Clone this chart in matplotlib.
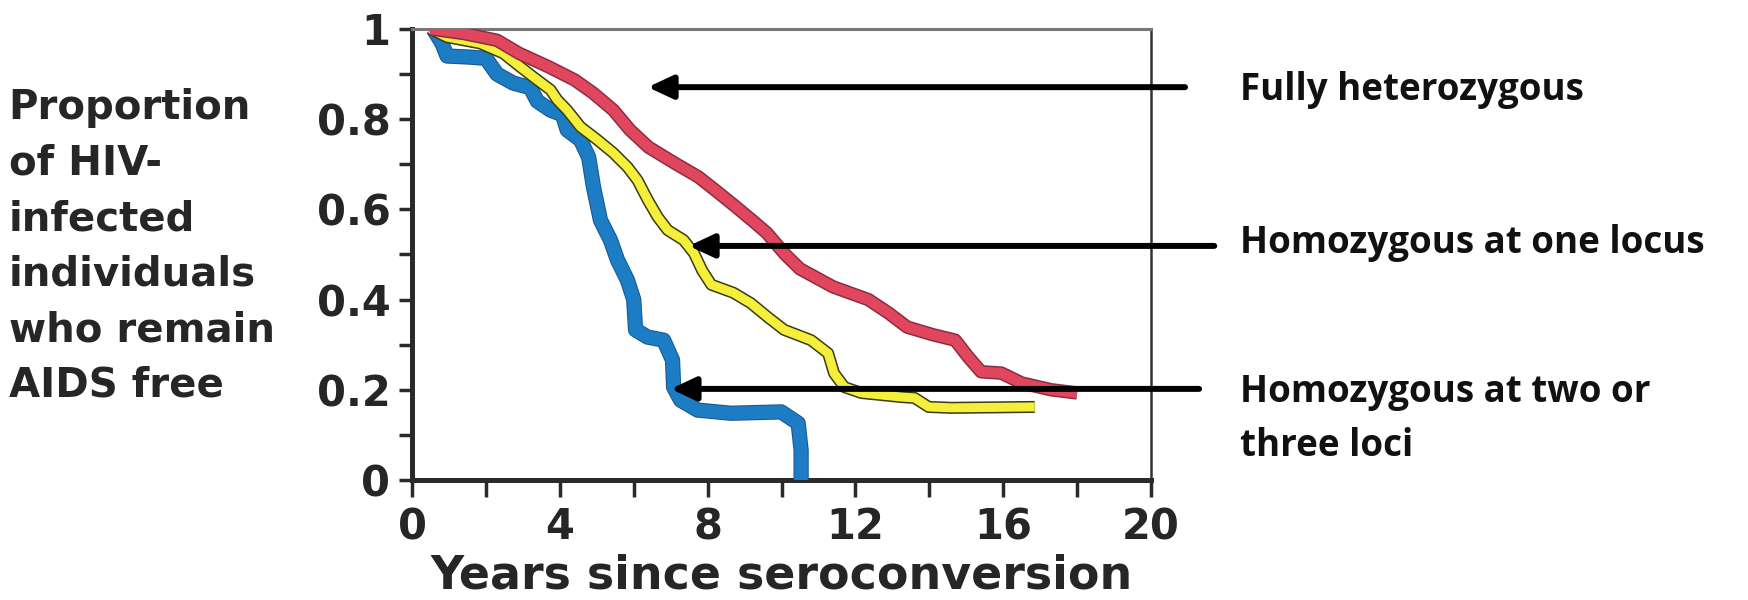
import matplotlib
matplotlib.use("Agg")
import matplotlib.pyplot as plt
import matplotlib.patheffects as pe
from matplotlib.ticker import MultipleLocator, FixedLocator

# Curve readings (years since seroconversion, proportion AIDS free)
red_x = [0.5, 1.4, 2.3, 2.9, 3.7, 4.4, 4.9, 5.45, 5.9, 6.4, 7.1, 7.75, 8.2, 8.7, 9.2,
         9.6, 10.1, 10.5, 11.4, 12.35, 12.9, 13.4, 14.1, 14.7, 15.05, 15.4, 15.95, 16.5,
         17.3, 18.0]
red_y = [1.0, 0.99, 0.975, 0.946, 0.916, 0.887, 0.858, 0.82, 0.776, 0.738, 0.703, 0.672,
         0.643, 0.61, 0.576, 0.548, 0.5, 0.468, 0.428, 0.40, 0.37, 0.339, 0.322, 0.31,
         0.273, 0.24, 0.237, 0.215, 0.2, 0.193]

yellow_x = [0.5, 0.95, 1.85, 2.47, 2.93, 3.39, 3.75, 3.93, 4.2, 4.56, 5.02, 5.45, 5.83,
            6.1, 6.38, 6.65, 6.92, 7.35, 7.63, 7.85, 8.1, 8.7, 9.17, 9.63, 10.07, 10.8,
            11.26, 11.42, 11.7, 12.16, 13.24, 13.6, 13.98, 14.6, 16.85]
yellow_y = [1.0, 0.982, 0.968, 0.946, 0.916, 0.887, 0.865, 0.843, 0.82, 0.783, 0.754,
            0.725, 0.694, 0.665, 0.621, 0.583, 0.554, 0.532, 0.503, 0.465, 0.433, 0.415,
            0.392, 0.361, 0.333, 0.31, 0.281, 0.237, 0.206, 0.193, 0.184, 0.182, 0.162,
            0.16, 0.162]

blue_x = [0.57, 0.8, 0.95, 1.49, 2.0, 2.3, 2.74, 3.2, 3.39, 3.75, 4.07, 4.2, 4.56, 4.78,
          4.91, 5.1, 5.37, 5.56, 5.83, 6.0, 6.05, 6.37, 6.81, 7.05, 7.08, 7.27, 7.73,
          8.63, 9.99, 10.45, 10.53, 10.53]
blue_y = [1.0, 0.97, 0.94, 0.938, 0.935, 0.90, 0.88, 0.87, 0.84, 0.82, 0.81, 0.776,
          0.754, 0.716, 0.65, 0.576, 0.532, 0.488, 0.443, 0.40, 0.333, 0.317, 0.31,
          0.266, 0.206, 0.177, 0.155, 0.148, 0.151, 0.126, 0.066, 0.0]

# arrow tips (data coords) and labels
labels = ["Fully heterozygous", "Homozygous at one locus", "Homozygous at two or\nthree loci"]
tip_x = [6.38, 7.49, 7.0]
tip_y = [0.871, 0.519, 0.202]
tail_x = [20.92, 21.71, 21.3]

x_ticks = [0, 4, 8, 12, 16, 20]
y_ticks = [0, 0.2, 0.4, 0.6, 0.8, 1]
y_tick_labels = ["0", "0.2", "0.4", "0.6", "0.8", "1"]

txt = "#262626"
fig = plt.figure(figsize=(17.48, 6.0), dpi=100)
ax = fig.add_axes([0.2357, 0.2, 0.4228, 0.7517])

def band(x, y, fill, edge, lw, elw, z):
    ax.plot(x, y, color=fill, lw=lw, solid_joinstyle="round", solid_capstyle="butt",
            zorder=z, path_effects=[pe.Stroke(linewidth=lw + elw, foreground=edge),
                                    pe.Normal()])

band(blue_x, blue_y, "#1c7cc4", "#18588f", 9.5, 1.5, 3)
band(yellow_x, yellow_y, "#f3ef3a", "#3c3a12", 6.5, 2.2, 4)
band(red_x, red_y, "#e0475f", "#8c2d3e", 7.5, 2.2, 5)

ax.set_xlim(0, 20)
ax.set_ylim(0, 1)
ax.xaxis.set_major_locator(FixedLocator(x_ticks))
ax.xaxis.set_minor_locator(MultipleLocator(2))
ax.set_yticks(y_ticks)
ax.set_yticklabels(y_tick_labels)
ax.yaxis.set_minor_locator(MultipleLocator(0.1))

ax.tick_params(axis="x", which="both", direction="out", length=12, width=2.5,
               color="#2a2a2a", pad=7, labelsize=30, labelcolor=txt)
ax.tick_params(axis="y", which="both", direction="out", length=9.5, width=2.5,
               color="#2a2a2a", pad=6, labelsize=30, labelcolor=txt)
for lab in ax.get_xticklabels() + ax.get_yticklabels():
    lab.set_fontweight("bold")

ax.spines["left"].set_linewidth(3.6)
ax.spines["bottom"].set_linewidth(3.6)
ax.spines["left"].set_color("#2a2a2a")
ax.spines["bottom"].set_color("#2a2a2a")
ax.spines["right"].set_linewidth(1.8)
ax.spines["right"].set_color("#333333")
ax.spines["top"].set_linewidth(2.2)
ax.spines["top"].set_color("#777777")

ax.set_xlabel("Years since seroconversion", fontsize=33, fontweight="bold",
              color=txt, labelpad=4)

fig.text(0.005, 0.588, "Proportion\nof HIV-\ninfected\nindividuals\nwho remain\nAIDS free",
         fontsize=29, fontweight="bold", color=txt, ha="left", va="center",
         linespacing=1.5)

label_y = [0.85, 0.595, 0.3017]
for lab, tx, ty, sx, ly in zip(labels, tip_x, tip_y, tail_x, label_y):
    ax.annotate("", xy=(tx, ty), xytext=(sx, ty), annotation_clip=False,
                arrowprops=dict(arrowstyle="-|>,head_length=0.75,head_width=0.35",
                                mutation_scale=20, lw=4.3, color="black",
                                shrinkA=0, shrinkB=0),
                zorder=8)
    fig.text(0.7094, ly, lab, fontsize=26.5, family="Open Sans", fontweight="bold",
             color="#111111", ha="left", va="center", linespacing=1.55)

fig.savefig("out.png", dpi=100)
